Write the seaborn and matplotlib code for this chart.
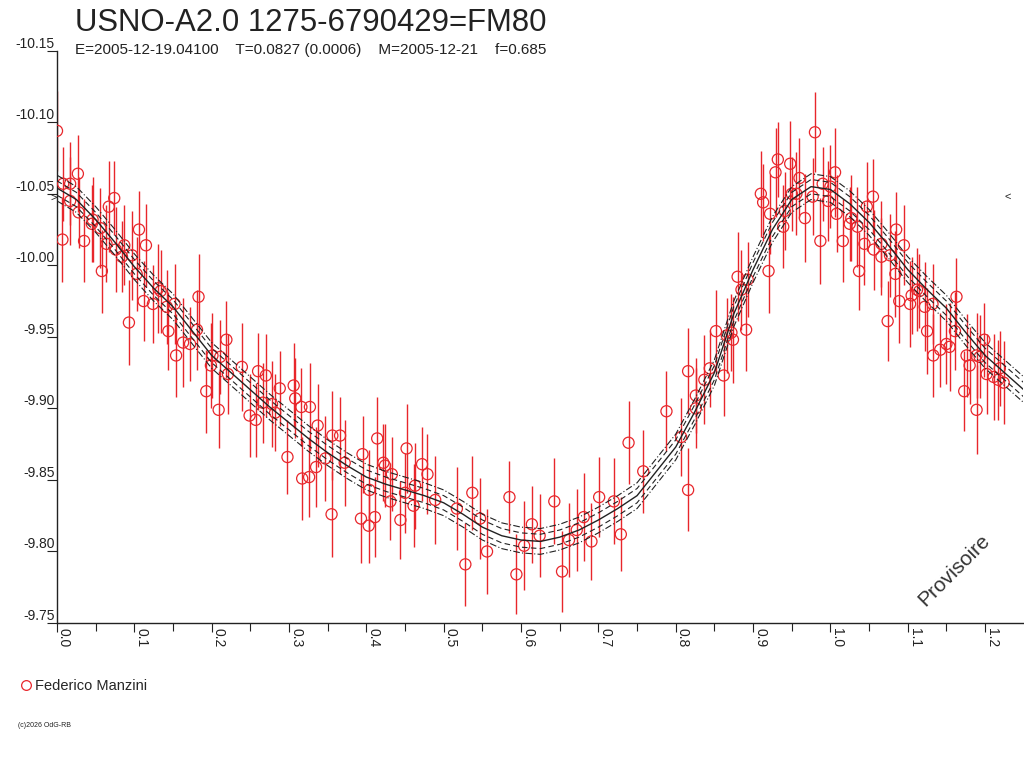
import pandas as pd
import numpy as np
import seaborn as sns
import matplotlib.pyplot as plt
from matplotlib.lines import Line2D
from matplotlib.ticker import MultipleLocator

sns.set_style("white")
plt.rcParams['font.family'] = ['Liberation Sans', 'DejaVu Sans']

phase_a = [0.000, 0.007, 0.008, 0.017, 0.027, 0.017, 0.028, 0.035, 0.046, 0.045,
           0.056, 0.067, 0.074, 0.058, 0.064, 0.076, 0.087, 0.084, 0.097, 0.106,
           0.115, 0.103, 0.093, 0.112, 0.124, 0.131, 0.134, 0.142, 0.152, 0.183,
           0.144, 0.154, 0.163, 0.172, 0.181, 0.201, 0.219]
mag_a = [-10.094, -10.018, -10.057, -10.057, -10.064, -10.045, -10.037, -10.017, -10.032, -10.029,
         -10.026, -10.041, -10.047, -9.996, -10.015, -10.011, -10.014, -10.006, -10.007, -10.025,
         -10.014, -9.994, -9.960, -9.975, -9.973, -9.984, -9.982, -9.971, -9.973, -9.978,
         -9.954, -9.937, -9.946, -9.945, -9.955, -9.937, -9.948]
err_a = [0.028, 0.030, 0.026, 0.029, 0.027, 0.031, 0.025, 0.029, 0.030, 0.027,
         0.028, 0.032, 0.026, 0.029, 0.027, 0.030, 0.028, 0.025, 0.031, 0.027,
         0.029, 0.026, 0.030, 0.028, 0.027, 0.031, 0.029, 0.026, 0.028, 0.030,
         0.027, 0.029, 0.031, 0.026, 0.028, 0.030, 0.027]

phase_b = [0.193, 0.209, 0.199, 0.211, 0.221, 0.239, 0.260, 0.270, 0.288, 0.306,
           0.308, 0.316, 0.327, 0.249, 0.257, 0.266, 0.278, 0.282, 0.337, 0.356,
           0.298, 0.335, 0.347, 0.366, 0.317, 0.326]
mag_b = [-9.912, -9.899, -9.930, -9.936, -9.924, -9.929, -9.926, -9.923, -9.914, -9.916,
         -9.907, -9.901, -9.901, -9.895, -9.892, -9.904, -9.903, -9.897, -9.888, -9.881,
         -9.866, -9.859, -9.865, -9.881, -9.851, -9.852]
err_b = [0.029, 0.027, 0.030, 0.026, 0.028, 0.031, 0.027, 0.029, 0.026, 0.030,
         0.028, 0.027, 0.031, 0.029, 0.026, 0.028, 0.030, 0.027, 0.029, 0.031,
         0.026, 0.028, 0.030, 0.027, 0.029, 0.028]

phase_c = [0.355, 0.395, 0.414, 0.404, 0.393, 0.403, 0.411, 0.372, 0.422, 0.424,
           0.433, 0.452, 0.450, 0.431, 0.463, 0.461, 0.472, 0.479, 0.489, 0.444,
           0.517, 0.537, 0.547, 0.556, 0.528, 0.585, 0.594, 0.604, 0.614, 0.624,
           0.643, 0.653, 0.662, 0.672, 0.681, 0.691, 0.701, 0.720, 0.729, 0.739]
mag_c = [-9.826, -9.868, -9.879, -9.843, -9.823, -9.818, -9.824, -9.862, -9.862, -9.860,
         -9.854, -9.872, -9.841, -9.835, -9.846, -9.832, -9.861, -9.854, -9.836, -9.822,
         -9.830, -9.841, -9.823, -9.800, -9.791, -9.838, -9.784, -9.804, -9.819, -9.811,
         -9.835, -9.786, -9.808, -9.815, -9.824, -9.807, -9.838, -9.835, -9.812, -9.876]
err_c = [0.030, 0.027, 0.029, 0.028, 0.031, 0.026, 0.028, 0.030, 0.027, 0.029,
         0.026, 0.031, 0.028, 0.027, 0.030, 0.029, 0.026, 0.028, 0.031, 0.027,
         0.029, 0.026, 0.028, 0.030, 0.029, 0.025, 0.028, 0.031, 0.027, 0.029,
         0.030, 0.028, 0.026, 0.029, 0.031, 0.027, 0.028, 0.030, 0.026, 0.029]

phase_d = [0.758, 0.788, 0.816, 0.807, 0.816, 0.826, 0.826, 0.837, 0.844, 0.852,
           0.862, 0.866, 0.874, 0.872, 0.891, 0.880, 0.885, 0.893, 0.920, 0.910,
           0.913, 0.922, 0.929, 0.932, 0.939, 0.941, 0.948, 0.960, 0.950, 0.956,
           0.967, 0.980, 0.977, 0.987, 0.990, 1.000, 0.997, 1.006, 1.008, 1.016,
           1.025, 1.027, 1.035, 1.037, 1.044, 1.047, 1.055, 1.056, 1.066, 1.066,
           1.077, 1.074, 1.085, 1.084, 1.089]
mag_d = [-9.856, -9.898, -9.843, -9.880, -9.926, -9.909, -9.900, -9.920, -9.928, -9.954,
         -9.923, -9.951, -9.948, -9.953, -9.955, -9.992, -9.983, -9.990, -9.996, -10.050,
         -10.044, -10.036, -10.065, -10.074, -10.027, -10.038, -10.071, -10.061, -10.050, -10.050,
         -10.033, -10.093, -10.048, -10.017, -10.057, -10.055, -10.045, -10.065, -10.036, -10.017,
         -10.029, -10.033, -10.027, -9.996, -10.015, -10.041, -10.048, -10.011, -10.015, -10.006,
         -10.007, -9.961, -10.025, -9.994, -9.975]
err_d = [0.029, 0.028, 0.029, 0.027, 0.030, 0.026, 0.028, 0.031, 0.027, 0.029,
         0.028, 0.026, 0.030, 0.027, 0.029, 0.031, 0.028, 0.026, 0.029, 0.030,
         0.027, 0.028, 0.031, 0.026, 0.029, 0.027, 0.030, 0.028, 0.026, 0.029,
         0.031, 0.028, 0.027, 0.030, 0.026, 0.029, 0.028, 0.031, 0.027, 0.029,
         0.026, 0.030, 0.028, 0.027, 0.029, 0.031, 0.026, 0.028, 0.030, 0.027,
         0.029, 0.028, 0.026, 0.030, 0.029]

phase_e = [1.095, 1.103, 1.105, 1.112, 1.115, 1.122, 1.132, 1.163, 1.125, 1.133,
           1.142, 1.150, 1.154, 1.161, 1.176, 1.189, 1.199, 1.173, 1.189, 1.180,
           1.193, 1.202, 1.211, 1.219, 1.224, 1.217]
mag_e = [-10.014, -9.973, -9.979, -9.983, -9.982, -9.971, -9.973, -9.978, -9.954, -9.937,
         -9.941, -9.945, -9.943, -9.954, -9.937, -9.937, -9.948, -9.912, -9.899, -9.930,
         -9.936, -9.924, -9.922, -9.928, -9.918, -9.920]
err_e = [0.028, 0.030, 0.027, 0.029, 0.026, 0.031, 0.028, 0.027, 0.030, 0.029,
         0.026, 0.028, 0.031, 0.027, 0.029, 0.030, 0.026, 0.028, 0.031, 0.027,
         0.029, 0.028, 0.030, 0.026, 0.029, 0.028]

# fitted light curve
curve_phase = [0.000, 0.025, 0.050, 0.075, 0.100, 0.125, 0.150, 0.175, 0.200, 0.225,
               0.250, 0.275, 0.300, 0.325, 0.350, 0.375, 0.400, 0.425, 0.450, 0.475,
               0.500, 0.525, 0.550, 0.575, 0.600, 0.625, 0.650, 0.675, 0.700, 0.725,
               0.750, 0.775, 0.800, 0.825, 0.850, 0.875, 0.900, 0.925, 0.950, 0.975,
               1.000, 1.025, 1.050, 1.075, 1.100, 1.125, 1.150, 1.175, 1.200, 1.225, 1.250]
curve_mag = [-10.054, -10.046, -10.032, -10.016, -9.999, -9.984, -9.971, -9.954, -9.937, -9.925,
             -9.913, -9.901, -9.890, -9.879, -9.869, -9.860, -9.852, -9.847, -9.843, -9.839,
             -9.834, -9.826, -9.817, -9.811, -9.808, -9.807, -9.810, -9.815, -9.822, -9.830,
             -9.839, -9.856, -9.873, -9.898, -9.925, -9.966, -9.997, -10.025, -10.046, -10.055,
             -10.053, -10.043, -10.030, -10.014, -9.997, -9.983, -9.970, -9.953, -9.937, -9.925, -9.913]
band_inner = 0.005
band_outer = 0.009

y_ticks = [-10.15, -10.10, -10.05, -10.00, -9.95, -9.90, -9.85, -9.80, -9.75]
x_ticks = [0.0, 0.1, 0.2, 0.3, 0.4, 0.5, 0.6, 0.7, 0.8, 0.9, 1.0, 1.1, 1.2]

obs = pd.DataFrame({
    'phase': phase_a + phase_b + phase_c + phase_d + phase_e,
    'mag': mag_a + mag_b + mag_c + mag_d + mag_e,
    'err': err_a + err_b + err_c + err_d + err_e,
})
curve = pd.DataFrame({'phase': curve_phase, 'mag': curve_mag})
curve_m = np.array(curve_mag)

red = '#e8262b'
ink = '#222222'

fig = plt.figure(figsize=(10.24, 7.68), dpi=100)
ax = fig.add_axes([57 / 1024, 1 - 623 / 768, 966 / 1024, 572.3 / 768])

ax.errorbar(obs['phase'], obs['mag'], yerr=obs['err'], fmt='none',
            ecolor=red, elinewidth=1.0, capsize=0, zorder=2)
sns.scatterplot(data=obs, x='phase', y='mag', marker='o', s=64,
                facecolor='none', edgecolor=red, linewidth=0.9, ax=ax, zorder=3)

sns.lineplot(data=curve, x='phase', y='mag', color=ink, lw=1.0, ax=ax,
             estimator=None, sort=False, zorder=4)
for off, ls in [(band_inner, (0, (5, 3))), (band_outer, (0, (6, 2, 1, 2)))]:
    sns.lineplot(x=curve_phase, y=curve_m - off, color=ink, lw=0.8, ls=ls, ax=ax,
                 estimator=None, sort=False, zorder=4)
    sns.lineplot(x=curve_phase, y=curve_m + off, color=ink, lw=0.8, ls=ls, ax=ax,
                 estimator=None, sort=False, zorder=4)

ax.set_xlim(0, 1.249)
ax.set_ylim(-9.75, -10.15)
ax.set_xlabel('')
ax.set_ylabel('')

for s in ['top', 'right']:
    ax.spines[s].set_visible(False)
for s in ['left', 'bottom']:
    ax.spines[s].set_color(ink)
    ax.spines[s].set_linewidth(1.0)

ax.set_xticks(x_ticks)
ax.set_xticklabels([f'{t:.1f}' for t in x_ticks], rotation=-90, ha='left', va='top',
                   fontsize=10, color=ink)
ax.xaxis.set_minor_locator(MultipleLocator(0.05))
ax.tick_params(axis='x', which='major', direction='out', length=6.5, width=0.8,
               color=ink, pad=-3, bottom=True)
ax.tick_params(axis='x', which='minor', direction='out', length=6, width=0.8,
               color=ink, bottom=True)

ax.set_yticks(y_ticks)
ax.set_yticklabels([f'{t:.2f}' for t in y_ticks], fontsize=10, color=ink)
ax.tick_params(axis='y', direction='out', length=7.5, width=0.8, color=ink, pad=-6, left=True)
for lab in ax.get_yticklabels():
    lab.set_va('bottom')

# max markers on the edges
ax.text(-0.004, -10.047, '>', fontsize=8, color=ink, ha='center', va='center', clip_on=False)
ax.text(1.229, -10.048, '<', fontsize=8, color=ink, ha='center', va='center')

ax.text(1.160, -9.787, 'Provisoire', fontsize=15, color='#333333', rotation=45,
        ha='center', va='center')

fig.text(75 / 1024, 1 - 31 / 768, 'USNO-A2.0 1275-6790429=FM80', fontsize=22.4,
         color=ink, ha='left', va='baseline')
fig.text(75 / 1024, 1 - 54 / 768,
         'E=2005-12-19.04100    T=0.0827 (0.0006)    M=2005-12-21    f=0.685',
         fontsize=11, color=ink, ha='left', va='baseline')

handle = Line2D([], [], marker='o', ls='none', mfc='none', mec=red, ms=7, mew=0.9)
ax.legend(handles=[handle], labels=['Federico Manzini'], loc='upper left',
          bbox_to_anchor=(12 / 1024, 1 - 672 / 768), bbox_transform=fig.transFigure,
          frameon=False, handletextpad=0.2, borderpad=0, handlelength=0.9,
          prop={'size': 10.5})

fig.text(18 / 1024, 1 - 727 / 768, '(c)2026 OdG-RB', fontsize=5, color=ink)

fig.savefig('out.png', dpi=100)
